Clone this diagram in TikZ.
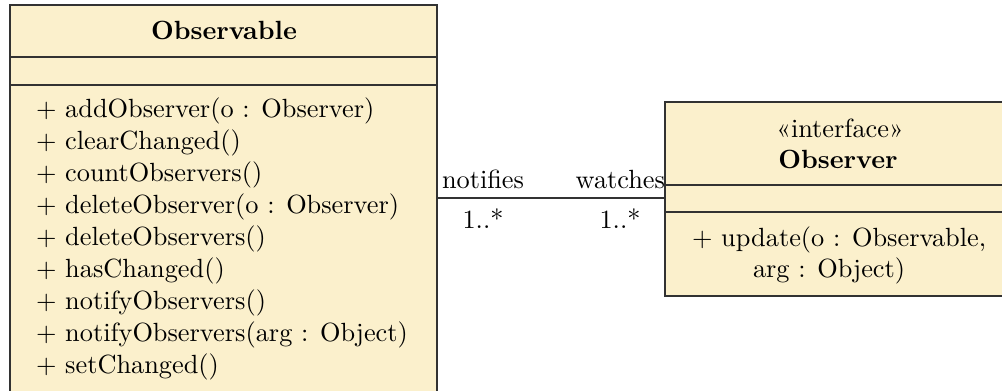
\documentclass[tikz,border=0pt]{standalone}
\usepackage{fontspec}
\definecolor{umlfill}{RGB}{251,240,204}
\definecolor{umlline}{RGB}{50,50,50}
\begin{document}
\begin{tikzpicture}[x=0.38pt,y=-0.38pt,
  box/.style={draw=umlline, fill=umlfill, line width=0.6pt},
  sep/.style={draw=umlline, line width=0.6pt},
  txt/.style={inner sep=0pt, outer sep=0pt, font=\normalsize},
  meth/.style={txt, anchor=west},
  assoc/.style={draw=umlline, line width=0.5pt}]
\useasboundingbox (0,0) rectangle (1002,390);
% Observable class
\path[box] (10,5) rectangle (437,420);
\draw[sep] (10,57) -- (437,57);
\draw[sep] (10,85) -- (437,85);
\node[txt] (obsname) at (224,30) {\textbf{Observable}};
\node[meth] (m1) at (36,111) {$+$ addObserver(o : Observer)};
\node[meth] (m2) at (36,143) {$+$ clearChanged()};
\node[meth] (m3) at (36,175) {$+$ countObservers()};
\node[meth] (m4) at (36,207) {$+$ deleteObserver(o : Observer)};
\node[meth] (m5) at (36,239) {$+$ deleteObservers()};
\node[meth] (m6) at (36,271) {$+$ hasChanged()};
\node[meth] (m7) at (36,303) {$+$ notifyObservers()};
\node[meth] (m8) at (36,335) {$+$ notifyObservers(arg : Object)};
\node[meth] (m9) at (36,367) {$+$ setChanged()};
% Observer interface
\path[box] (665,102) rectangle (1015,296);
\draw[sep] (665,185) -- (1015,185);
\draw[sep] (665,212) -- (1015,212);
\node[txt] (stereo) at (840,128) {«interface»};
\node[txt] (obrname) at (838,159) {\textbf{Observer}};
\node[meth] (u1) at (692,240) {$+$ update(o : Observable,};
\node[meth] (u2) at (753,271) {arg : Object)};
% association
\coordinate (obsR) at (437,198);
\coordinate (obrL) at (665,198);
\draw[assoc] (obsR) -- (obrL);
\node[txt, anchor=base west] (l1) at (442,188) {notifies};
\node[txt, anchor=base east] (l2) at (665,188) {watches};
\node[txt, anchor=base] (c1) at (483,228) {1..*};
\node[txt, anchor=base] (c2) at (620,228) {1..*};
\end{tikzpicture}
\end{document}
